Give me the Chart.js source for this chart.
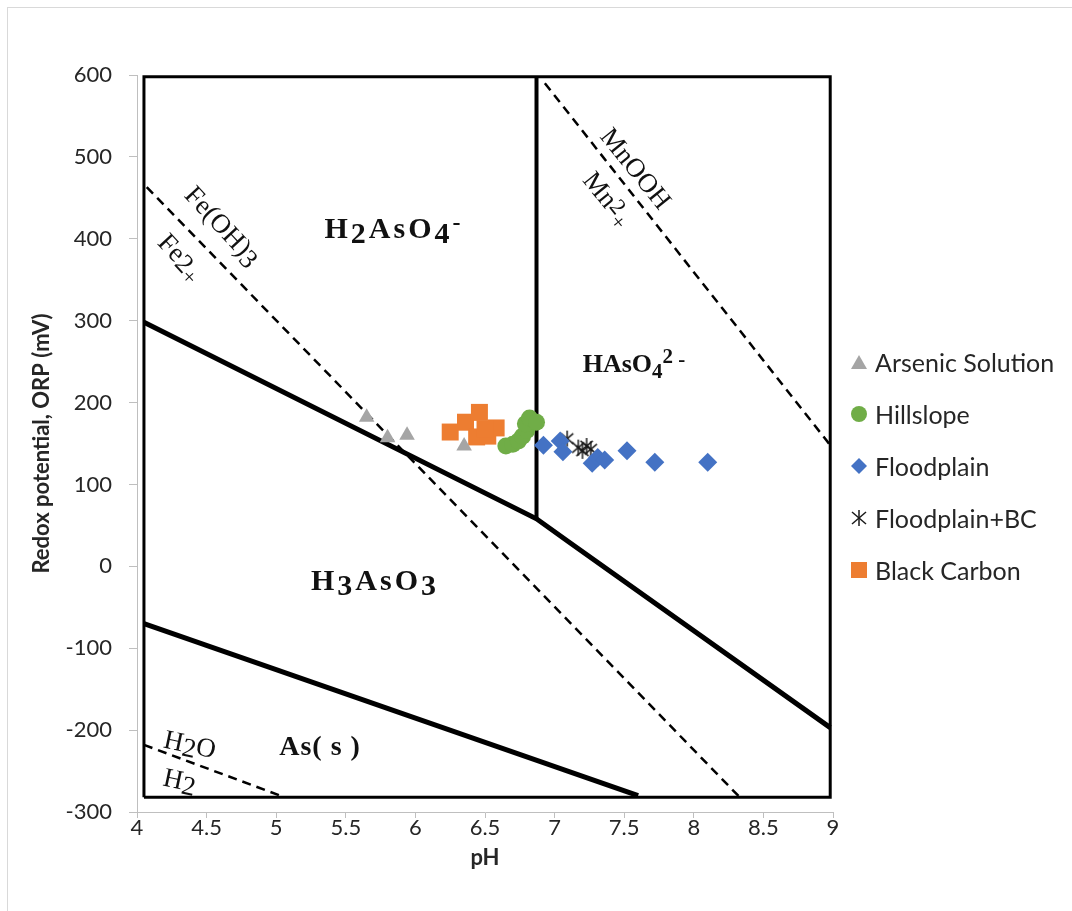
<!DOCTYPE html>
<html>
<head>
<meta charset="utf-8">
<script src="https://cdn.jsdelivr.net/npm/chart.js@4.4.1/dist/chart.umd.min.js"></script>
<style>
  html, body { margin: 0; padding: 0; background: #fff; }
  #wrap { position: relative; width: 1072px; height: 911px; overflow: hidden; }
  #frame { position: absolute; left: 7px; top: 7px; width: 1200px; height: 1000px; border: 1.5px solid #d9d9d9; }
  #box { position: absolute; left: 0; top: 0; width: 1072px; height: 911px; }
  .item { position: absolute; left: 848px; height: 30px; line-height: 30px; font: 25px Lato; color: #262626; white-space: nowrap; }
  .item svg { position: absolute; left: 0; top: 5px; }
  .item span { position: absolute; left: 27px; top: 0; }
</style>
</head>
<body>
<div id="wrap">
  <div id="frame"></div>
  <div id="box"><canvas id="pourbaix"></canvas></div>
  <div class="item" style="top:347px"><svg width="22" height="20"><polygon points="11,3 19,17 3,17" fill="#a5a5a5"/></svg><span>Arsenic Solution</span></div>
  <div class="item" style="top:399px"><svg width="22" height="20"><circle cx="11" cy="10" r="8" fill="#70ad47"/></svg><span>Hillslope</span></div>
  <div class="item" style="top:451px"><svg width="22" height="20"><polygon points="11,2 19,10 11,18 3,10" fill="#4472c4"/></svg><span>Floodplain</span></div>
  <div class="item" style="top:503px"><svg width="22" height="20"><g stroke="#1a1a1a" stroke-width="1.5"><line x1="11" y1="2" x2="11" y2="18"/><line x1="4" y1="4" x2="18" y2="16"/><line x1="18" y1="4" x2="4" y2="16"/></g></svg><span>Floodplain+BC</span></div>
  <div class="item" style="top:555px"><svg width="22" height="20"><rect x="3" y="2" width="16" height="16" fill="#ed7d31"/></svg><span>Black Carbon</span></div>
</div>
<script>
// measured points [pH, ORP mV]
const arsenicSolution = [[5.65, 182], [5.80, 157], [5.94, 160], [6.35, 147]];
const hillslope = [[6.65, 147], [6.70, 149], [6.74, 153], [6.77, 159], [6.80, 166], [6.79, 174], [6.82, 181], [6.87, 176]];
const floodplain = [[6.92, 148], [7.04, 153], [7.06, 140], [7.27, 126], [7.31, 133], [7.36, 130], [7.52, 141], [7.72, 127], [8.10, 127]];
const floodplainBC = [[7.09, 156], [7.17, 145], [7.20, 141], [7.23, 147], [7.26, 143]];
const blackCarbon = [[6.25, 164], [6.36, 176], [6.46, 188], [6.44, 158], [6.52, 159], [6.58, 169], [6.50, 168]];

// background Eh-pH diagram (traced)
const diagramFrame = [[4.05, -282], [4.05, 598], [8.98, 598], [8.98, -282], [4.05, -282]];
const arsenateDivide = [[6.87, 598], [6.87, 58]];
const arseniteUpper = [[4.05, 298], [6.87, 58], [7.1, 30], [8.98, -197]];
const arseniteLower = [[4.05, -70], [7.6, -280]];
const ironLine = [[4.07, 463], [8.33, -282]];
const manganeseLine = [[6.93, 590], [8.98, 148]];
const waterLine = [[4.05, -218], [5.06, -282]];

const xTicksStep = 0.5;
const yTicksStep = 100;

const pts = a => a.map(([x, y]) => ({ x, y }));

function makeAsterisk(size) {
  const c = document.createElement('canvas');
  c.width = size; c.height = size;
  const g = c.getContext('2d');
  g.strokeStyle = '#1a1a1a';
  g.lineWidth = 1.5;
  const m = size / 2, r = size / 2 - 1;
  [90, 40, 140].forEach(a => {
    const t = a * Math.PI / 180;
    g.beginPath();
    g.moveTo(m - Math.cos(t) * r, m - Math.sin(t) * r);
    g.lineTo(m + Math.cos(t) * r, m + Math.sin(t) * r);
    g.stroke();
  });
  return c;
}

const formulaLabels = [
  { x: 5.846, y: 413, rot: 0, size: 30, weight: 'bold', ls: 3, parts: [['H'], ['2', 5], ['AsO'], ['4', 5], ['-', -8, 0.8]] },
  { x: 7.570, y: 248, rot: 0, size: 26, weight: 'bold', ls: 0, parts: [['HAsO'], ['4', 6, 0.8], ['2', -9, 0.8], [' -', -6, 0.8]] },
  { x: 5.710, y: -17, rot: 0, size: 30, weight: 'bold', ls: 3, parts: [['H'], ['3', 5], ['AsO'], ['3', 5]] },
  { x: 5.315, y: -219, rot: 0, size: 28, weight: 'bold', ls: 1, parts: [['As( s )']] },
  { x: 4.618, y: 416, rot: 47, size: 27, weight: 'normal', ls: 0, parts: [['Fe(OH)'], ['3', 4]] },
  { x: 4.316, y: 378, rot: 47, size: 27, weight: 'normal', ls: 0, parts: [['Fe'], ['2', 2], ['+', 6, 0.8]] },
  { x: 7.585, y: 486, rot: 51, size: 27, weight: 'normal', ls: 0, parts: [['MnOOH']] },
  { x: 7.384, y: 449, rot: 51, size: 27, weight: 'normal', ls: 0, parts: [['Mn'], ['2', -4, 0.85], ['+', 5, 0.8]] },
  { x: 4.381, y: -217, rot: 12, size: 27, weight: 'normal', ls: 0, parts: [['H'], ['2', 4], ['O']] },
  { x: 4.309, y: -261, rot: 12, size: 27, weight: 'normal', ls: 0, parts: [['H'], ['2', 4]] }
];

const formulaPlugin = {
  id: 'formulas',
  beforeDatasetsDraw(chart) {
    const ctx = chart.ctx;
    const sx = chart.scales.x, sy = chart.scales.y;
    formulaLabels.forEach(lab => {
      const cx = sx.getPixelForValue(lab.x), cy = sy.getPixelForValue(lab.y);
      ctx.save();
      ctx.translate(cx, cy);
      ctx.rotate(lab.rot * Math.PI / 180);
      ctx.letterSpacing = lab.ls + 'px';
      ctx.fillStyle = '#111';
      ctx.textBaseline = 'alphabetic';
      ctx.textAlign = 'left';
      const fonts = lab.parts.map(p => lab.weight + ' ' + Math.round(lab.size * (p[2] || 1)) + 'px "Liberation Serif"');
      let w = 0;
      lab.parts.forEach((p, i) => { ctx.font = fonts[i]; w += ctx.measureText(p[0]).width; });
      let xx = -w / 2;
      lab.parts.forEach((p, i) => {
        ctx.font = fonts[i];
        ctx.fillText(p[0], xx, lab.size * 0.33 + (p[1] || 0));
        xx += ctx.measureText(p[0]).width;
      });
      ctx.restore();
    });
  }
};

const lineSet = (data, width, dash) => ({
  type: 'line',
  data: pts(data),
  borderColor: '#000',
  borderWidth: width,
  borderDash: dash || [],
  pointRadius: 0,
  fill: false,
  tension: 0,
  borderCapStyle: 'butt',
  borderJoinStyle: 'miter'
});

new Chart(document.getElementById('pourbaix'), {
  type: 'scatter',
  data: {
    datasets: [
      { label: 'Arsenic Solution', data: pts(arsenicSolution), pointStyle: 'triangle', radius: 9, backgroundColor: '#a5a5a5', borderWidth: 0 },
      { label: 'Hillslope', data: pts(hillslope), pointStyle: 'circle', radius: 8.5, backgroundColor: '#70ad47', borderWidth: 0 },
      { label: 'Floodplain', data: pts(floodplain), pointStyle: 'rectRot', radius: 9.5, backgroundColor: '#4472c4', borderWidth: 0 },
      { label: 'Floodplain+BC', data: pts(floodplainBC), pointStyle: makeAsterisk(18), radius: 9 },
      { label: 'Black Carbon', data: pts(blackCarbon), pointStyle: 'rect', radius: 12, backgroundColor: '#ed7d31', borderWidth: 0 },
      lineSet(diagramFrame, 3),
      lineSet(arsenateDivide, 4),
      lineSet(arseniteUpper, 5),
      lineSet(arseniteLower, 5),
      lineSet(ironLine, 2.5, [9, 6]),
      lineSet(manganeseLine, 2.5, [9, 6]),
      lineSet(waterLine, 2.5, [9, 6])
    ]
  },
  options: {
    responsive: true,
    maintainAspectRatio: false,
    animation: false,
    events: [],
    layout: { padding: { top: 75, right: 239, bottom: 0, left: 0 } },
    plugins: {
      legend: { display: false },
      tooltip: { enabled: false }
    },
    scales: {
      x: {
        type: 'linear',
        min: 4,
        max: 9,
        ticks: { stepSize: xTicksStep, padding: -3, color: '#262626', font: { family: 'Lato', size: 22 }, callback: v => String(+v.toFixed(1)) },
        grid: { drawOnChartArea: false, color: '#bfbfbf', tickLength: 6 },
        border: { color: '#bfbfbf', width: 1 },
        title: { display: true, text: 'pH', color: '#262626', font: { family: 'Lato', size: 22, weight: 'bold' }, padding: { top: 0, bottom: 40 } },
        afterFit(s) { s.height = 99; }
      },
      y: {
        type: 'linear',
        min: -300,
        max: 600,
        ticks: { stepSize: yTicksStep, padding: 17, color: '#262626', font: { family: 'Lato', size: 22 } },
        grid: { drawOnChartArea: false, color: '#bfbfbf', tickLength: 8 },
        border: { color: '#bfbfbf', width: 1 },
        title: { display: true, text: 'Redox potential, ORP (mV)', color: '#262626', font: { family: 'Lato', size: 22, weight: 'bold' }, padding: { top: 29, bottom: 0 } },
        afterFit(s) { s.width = 137; }
      }
    }
  },
  plugins: [formulaPlugin]
});
</script>
</body>
</html>
